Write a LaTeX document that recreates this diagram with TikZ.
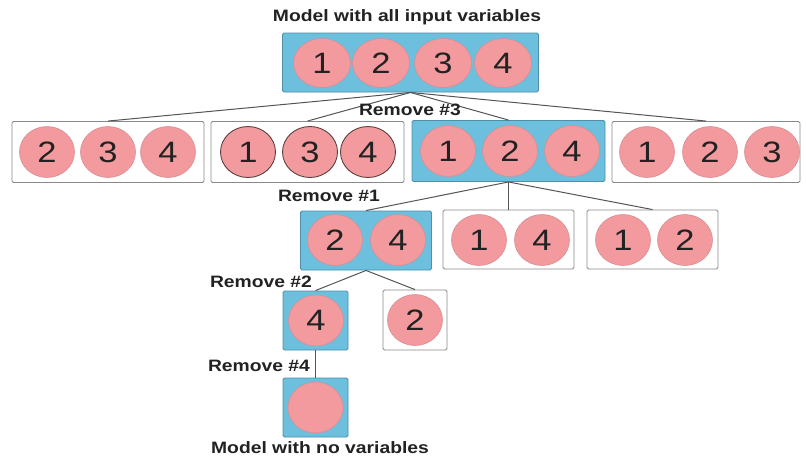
\documentclass[tikz,border=0pt]{standalone}
\usepackage{fontspec}
\setmainfont{Liberation Sans}[FakeStretch=1.17]
\usetikzlibrary{shapes.geometric}
\definecolor{bluefill}{HTML}{6CC0DE}
\definecolor{blueedge}{HTML}{4F8FAA}
\definecolor{boxedge}{HTML}{8A8A8A}
\definecolor{pinkfill}{HTML}{F29A9E}
\definecolor{pinkedge}{HTML}{D98D93}
\definecolor{darkedge}{HTML}{5E4040}
\definecolor{linec}{HTML}{555555}
\definecolor{txt}{HTML}{222222}
\begin{document}
\begin{tikzpicture}[x=1pt,y=-1pt,
  wbox/.style={draw=boxedge, fill=white, line width=0.9pt, rounded corners=1.5pt, inner sep=0pt},
  bbox/.style={draw=blueedge, fill=bluefill, line width=0.9pt, rounded corners=1.5pt, inner sep=0pt},
  var/.style={ellipse, fill=pinkfill, draw=pinkedge, line width=0.6pt, minimum width=55pt, minimum height=51pt, inner sep=0pt, text=txt, font=\fontsize{29.5}{29.5}\selectfont},
  topvar/.style={var, minimum width=57pt, minimum height=49pt},
  darkvar/.style={var, draw=darkedge, line width=0.9pt},
  conn/.style={draw=linec, line width=1pt},
  lbl/.style={inner sep=0pt, text=txt, font=\fontsize{16.5}{18}\selectfont\bfseries}
]
\useasboundingbox (0,0) rectangle (806,459);
\fill[white] (0,0) rectangle (806,459);

% top box
\node[bbox, minimum width=256pt, minimum height=59pt] (T) at (410.5,62.5) {};
\node[topvar] (T1) at (322,63) {1};
\node[topvar] (T2) at (381,63) {2};
\node[topvar] (T3) at (443,63) {3};
\node[topvar] (T4) at (503,63) {4};

% row 2
\node[wbox, minimum width=192pt, minimum height=61pt] (A) at (108,152) {};
\node[var] (A2) at (47,152) {2};
\node[var] (A3) at (108,152) {3};
\node[var] (A4) at (168,152) {4};

\node[wbox, minimum width=193pt, minimum height=61pt] (B) at (307.5,152) {};
\node[darkvar] (B1) at (248,152) {1};
\node[darkvar] (B3) at (310,152) {3};
\node[darkvar] (B4) at (368,152) {4};

\node[bbox, minimum width=193pt, minimum height=61pt] (C) at (508.5,151) {};
\node[var] (C1) at (448,151) {1};
\node[var] (C2) at (510,151) {2};
\node[var] (C4) at (572,151) {4};

\node[wbox, minimum width=188pt, minimum height=61pt] (D) at (706,152) {};
\node[var] (D1) at (647,152) {1};
\node[var] (D2) at (710,152) {2};
\node[var] (D3) at (772,152) {3};

% row 3
\node[bbox, minimum width=131pt, minimum height=59pt] (E) at (366,240.5) {};
\node[var] (E2) at (335,240) {2};
\node[var] (E4) at (398,240) {4};

\node[wbox, minimum width=131pt, minimum height=59pt] (F) at (508.5,239.5) {};
\node[var] (F1) at (479,240) {1};
\node[var] (F4) at (542,240) {4};

\node[wbox, minimum width=131pt, minimum height=59pt] (G) at (652.5,239.5) {};
\node[var] (G1) at (623,240) {1};
\node[var] (G2) at (685,240) {2};

% row 4
\node[bbox, minimum width=65pt, minimum height=59pt] (H) at (315.5,320.5) {};
\node[var] (H4) at (316,320.5) {4};

\node[wbox, minimum width=64pt, minimum height=60pt] (I) at (415,320) {};
\node[var] (I2) at (415,320) {2};

% row 5
\node[bbox, minimum width=65pt, minimum height=59pt] (J) at (315.5,407.5) {};
\node[var] (J0) at (315.5,407.5) {};

% connectors
\draw[conn] (T.south) -- (A.north);
\draw[conn] (T.south) -- (B.north);
\draw[conn] (T.south) -- (C.north);
\draw[conn] (T.south) -- (D.north);
\draw[conn] (C.south) -- (E.north);
\draw[conn] (C.south) -- (F.north);
\draw[conn] (C.south) -- (G.north);
\draw[conn] (E.south) -- (H.north);
\draw[conn] (E.south) -- (I.north);
\draw[conn] (H.south) -- (J.north);

% labels
\node[lbl] (title) at (407,17) {Model with all input variables};
\node[lbl] (r3) at (410,110) {Remove \#3};
\node[lbl] (r1) at (329,196) {Remove \#1};
\node[lbl] (r2) at (261,282) {Remove \#2};
\node[lbl] (r4) at (259,366) {Remove \#4};
\node[lbl] (bottom) at (320,448) {Model with no variables};
\end{tikzpicture}
\end{document}
